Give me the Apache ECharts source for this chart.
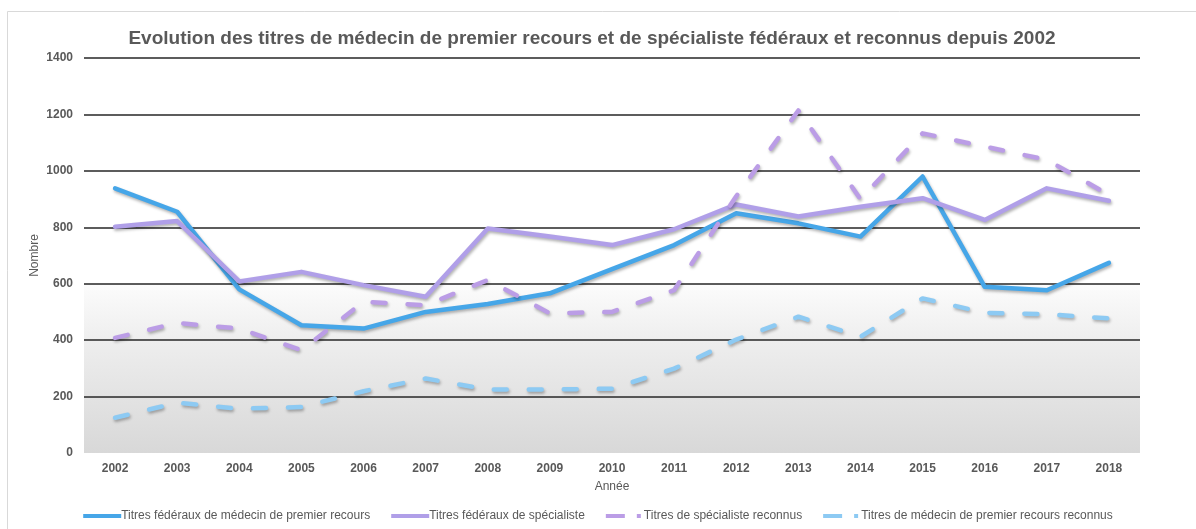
<!DOCTYPE html>
<html>
<head>
<meta charset="utf-8">
<script src="https://cdn.jsdelivr.net/npm/echarts@6/dist/echarts.min.js"></script>
<style>
  html, body { margin: 0; padding: 0; background: #fff; }
  #chart { width: 1196px; height: 529px; }
</style>
</head>
<body>
<div id="chart"></div>
<script>
var years = ['2002', '2003', '2004', '2005', '2006', '2007', '2008', '2009', '2010',
             '2011', '2012', '2013', '2014', '2015', '2016', '2017', '2018'];
// Titres fédéraux de médecin de premier recours
var federauxPremier = [938, 855, 580, 453, 441, 500, 528, 566, 652, 737, 850, 814, 767, 980, 589, 577, 674];
// Titres fédéraux de spécialiste
var federauxSpec = [802, 822, 608, 642, 595, 554, 796, 767, 737, 793, 881, 838, 873, 903, 826, 938, 894];
// Titres de spécialiste reconnus
var reconnusSpec = [408, 461, 441, 364, 536, 524, 613, 495, 500, 577, 910, 1214, 900, 1133, 1086, 1039, 915];
// Titres de médecin de premier recours reconnus
var reconnusPremier = [125, 178, 157, 163, 219, 264, 225, 225, 228, 299, 402, 483, 412, 548, 497, 492, 477];

var seriesNames = [
  'Titres fédéraux de médecin de premier recours',
  'Titres fédéraux de spécialiste',
  'Titres de spécialiste reconnus',
  'Titres de médecin de premier recours reconnus'
];

var textGrey = '#595959';
var shadow = { shadowColor: 'rgba(0,0,0,0.3)', shadowBlur: 3, shadowOffsetX: 1, shadowOffsetY: 2 };
// legend icons : plain bar, or dash + dot like the excel legend
var solidIcon = 'path://M0,0H38V4H0Z';
var dashIcon = 'path://M0,0H19V4H0Z M31,0H35V4H31Z M38,2H38.01V2.01H38Z';

function band(top, bottom) {
  return new echarts.graphic.LinearGradient(0, 0, 0, 1, [
    { offset: 0, color: top },
    { offset: 1, color: bottom }
  ]);
}

function lineSerie(name, data, color, dashed) {
  return {
    name: name,
    type: 'line',
    data: data,
    symbol: 'none',
    smooth: false,
    itemStyle: { color: color },
    lineStyle: Object.assign({
      color: color,
      width: 4.5,
      type: dashed ? [13, 22] : 'solid',
      cap: 'round',
      join: 'round'
    }, shadow)
  };
}

var chart = echarts.init(document.getElementById('chart'));
chart.setOption({
  animation: false,
  backgroundColor: '#fff',
  textStyle: { fontFamily: 'Liberation Sans, Arial, sans-serif' },
  graphic: [{
    type: 'rect',
    shape: { x: 7.5, y: 11.5, width: 1200, height: 600 },
    style: { fill: 'none', stroke: '#d9d9d9', lineWidth: 1 },
    z: -1
  }],
  title: {
    text: 'Evolution des titres de médecin de premier recours et de spécialiste fédéraux et reconnus depuis 2002',
    left: 587,
    textAlign: 'center',
    top: 24,
    textStyle: { color: textGrey, fontSize: 19, fontWeight: 'bold' }
  },
  grid: { left: 84, right: 56, top: 58, bottom: 76 },
  legend: {
    data: [
      { name: seriesNames[0], icon: solidIcon },
      { name: seriesNames[1], icon: solidIcon },
      { name: seriesNames[2], icon: dashIcon },
      { name: seriesNames[3], icon: dashIcon }
    ],
    bottom: 2,
    left: 'center',
    itemWidth: 38,
    itemHeight: 4,
    itemGap: 21,
    textStyle: { color: textGrey, fontSize: 12, padding: [0, 0, 0, -5] }
  },
  xAxis: {
    type: 'category',
    data: years,
    boundaryGap: true,
    name: 'Année',
    nameLocation: 'middle',
    nameGap: 28,
    nameTextStyle: { color: textGrey, fontSize: 12 },
    axisLine: { show: false },
    axisTick: { show: false },
    axisLabel: { color: textGrey, fontSize: 12, fontWeight: 'bold', margin: 10 }
  },
  yAxis: {
    type: 'value',
    min: 0,
    max: 1400,
    interval: 200,
    name: 'Nombre',
    nameLocation: 'middle',
    nameGap: 43,
    nameMoveOverlap: false,
    nameTextStyle: { color: textGrey, fontSize: 12 },
    axisLine: { show: false },
    axisTick: { show: false },
    axisLabel: {
      color: textGrey, fontSize: 12, fontWeight: 'bold', margin: 11,
      formatter: function (v) { return String(v); }
    },
    splitLine: {
      show: true,
      lineStyle: {
        width: 1.5,
        color: ['rgba(0,0,0,0)', '#262626', '#262626', '#262626', '#262626', '#262626', '#262626', '#262626']
      }
    },
    splitArea: {
      show: true,
      areaStyle: {
        color: [
          band('#e3e3e3', '#d8d8d8'),
          band('#eeeeee', '#e3e3e3'),
          band('#fcfcfc', '#eeeeee'),
          '#ffffff', '#ffffff', '#ffffff', '#ffffff'
        ]
      }
    }
  },
  series: [
    lineSerie(seriesNames[0], federauxPremier, '#46a6e8', false),
    lineSerie(seriesNames[1], federauxSpec, '#b09fe8', false),
    lineSerie(seriesNames[2], reconnusSpec, '#bb9de6', true),
    lineSerie(seriesNames[3], reconnusPremier, '#8dcaf3', true)
  ]
});
window.addEventListener('resize', function () { chart.resize(); });
</script>
</body>
</html>
